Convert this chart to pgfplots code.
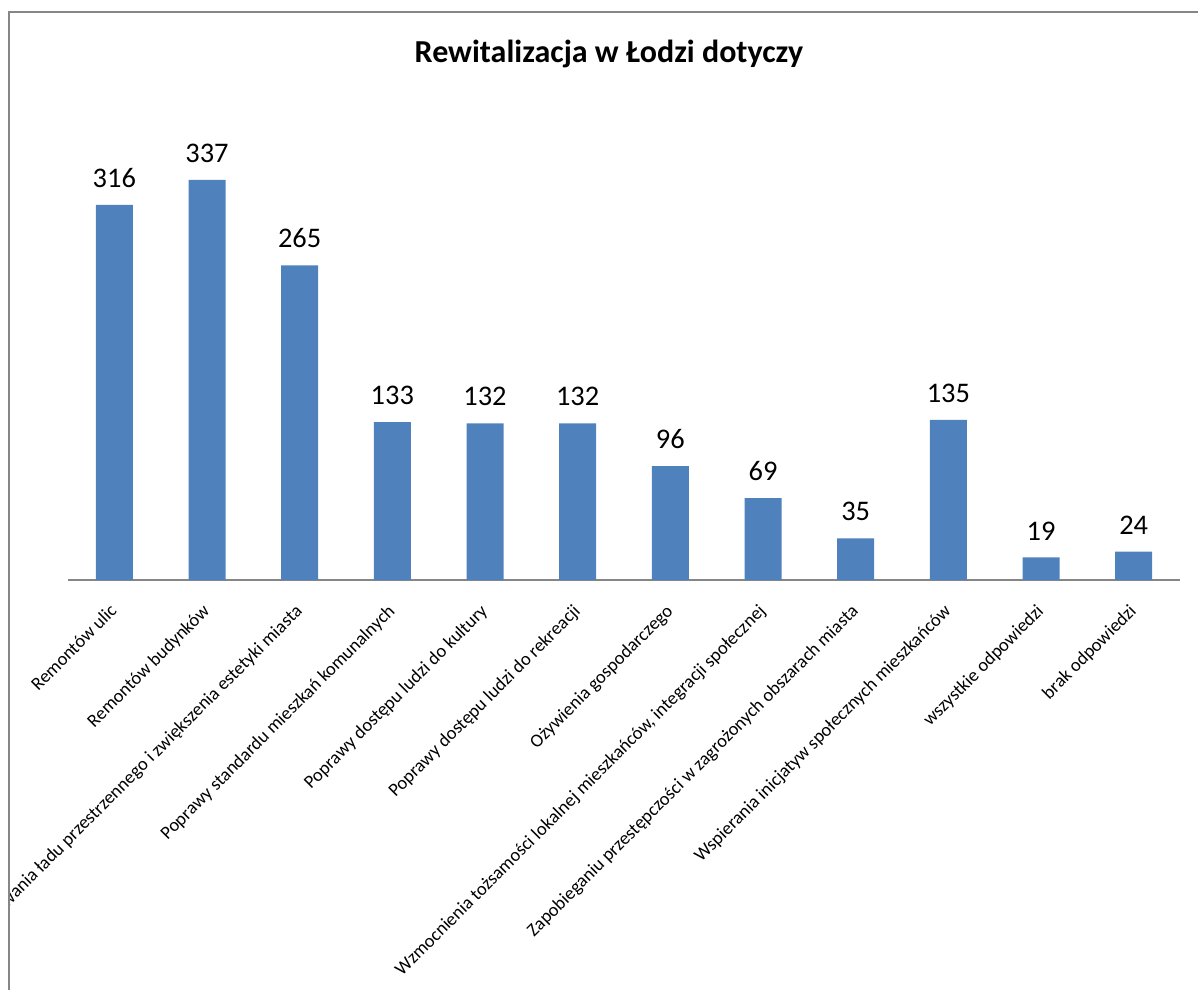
\documentclass[border=0pt]{standalone}
\usepackage{pgfplots}
\pgfplotsset{compat=1.18}
\usepackage{fontspec}
\setmainfont{Carlito}
\definecolor{barblue}{HTML}{4F81BD}
\definecolor{frame}{HTML}{868686}
\begin{document}
\begin{tikzpicture}[x=1pt,y=1pt]
\useasboundingbox (0,0) rectangle (599,495);
\begin{scope}
\clip (4.5,0) rectangle (599,495);
\begin{axis}[
  at={(34pt,205pt)}, anchor=south west,
  scale only axis, width=556pt, height=237.4pt,
  xmin=-0.5, xmax=11.5, ymin=0, ymax=400,
  axis y line=none, axis x line*=bottom,
  x axis line style={frame, line width=0.9pt, -},
  ytick=\empty,
  xtick={0,...,11}, major tick length=0pt,
  /pgf/number format/assume math mode=true,
  xticklabels={Remontów ulic, Remontów budynków, Uporządkowania ładu przestrzennego i zwiększenia estetyki miasta, Poprawy standardu mieszkań komunalnych, Poprawy dostępu ludzi do kultury, Poprawy dostępu ludzi do rekreacji, Ożywienia gospodarczego, {Wzmocnienia tożsamości lokalnej mieszkańców, integracji społecznej}, Zapobieganiu przestępczości  w zagrożonych obszarach miasta, Wspierania inicjatyw społecznych  mieszkańców, wszystkie odpowiedzi, brak odpowiedzi},
  xticklabel style={rotate=45, anchor=north east, font=\fontsize{9.25}{11}\selectfont, inner sep=0pt, xshift=-10pt, yshift=-6pt},
  ybar, bar width=18.5pt,
  nodes near coords,
  every node near coord/.append style={font=\fontsize{14.2}{16}\selectfont, anchor=south, inner sep=0pt, yshift=8.5pt},
  clip=false,
]
\addplot[fill=barblue, draw=none] coordinates {
(0,316) (1,337) (2,265) (3,133) (4,132) (5,132) (6,96) (7,69) (8,35) (9,135) (10,19) (11,24)};
\end{axis}
\end{scope}
\draw[frame, line width=0.8pt] (4.5,0) -- (4.5,489) -- (599,489);
\node[font=\bfseries\fontsize{16}{19}\selectfont] at (304.5,468) {Rewitalizacja w Łodzi dotyczy};
\end{tikzpicture}
\end{document}
